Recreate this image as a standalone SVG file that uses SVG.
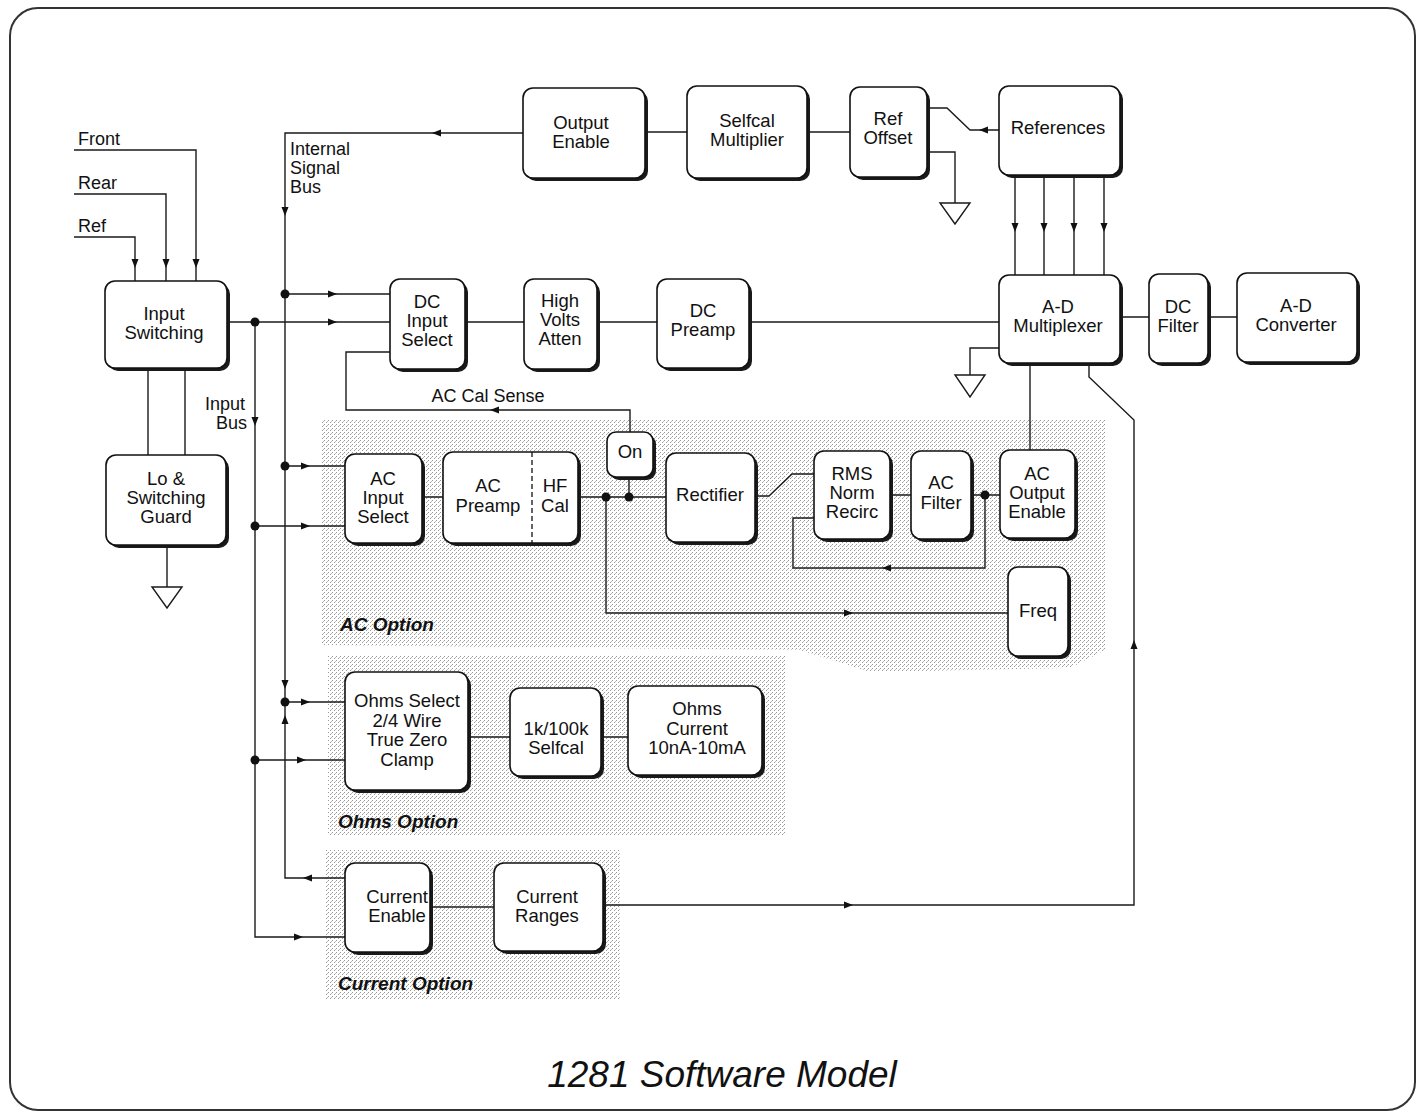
<svg xmlns="http://www.w3.org/2000/svg" width="1425" height="1120" viewBox="0 0 1425 1120">
<style>
.box{fill:#fff;stroke:#111;stroke-width:1.6}
.sh{fill:#1a1a1a}
.ln{fill:none;stroke:#1a1a1a;stroke-width:1.4}
.t{font-family:"Liberation Sans",Arial,sans-serif;font-size:18.5px;fill:#111;text-anchor:middle}
.l{font-family:"Liberation Sans",Arial,sans-serif;font-size:18px;fill:#111}
.opt{font-family:"Liberation Sans",Arial,sans-serif;font-size:19px;font-style:italic;font-weight:bold;fill:#111}
.ah{fill:#111}
.dot{fill:#111}
.gnd{fill:#fff;stroke:#1a1a1a;stroke-width:1.4}
.stip{fill:url(#stipple)}
</style>
<defs>
<pattern id="stipple" width="4" height="4" patternUnits="userSpaceOnUse">
<rect x="0" y="0" width="1" height="1" fill="#999"/>
<rect x="2" y="2" width="1" height="1" fill="#999"/>
<rect x="3" y="1" width="1" height="1" fill="#bbb"/>
</pattern>
<path id="a" d="M0,0 L-9,-3.5 L-9,3.5 Z"/>
</defs>
<rect x="0" y="0" width="1425" height="1120" fill="#fff"/>
<rect x="10" y="8" width="1405" height="1102" rx="28" fill="none" stroke="#333" stroke-width="2"/>

<g id="regions">
<polygon class="stip" points="322,420 1105,420 1105,650 1070,668 870,672 800,650 600,648 322,645"/>
<polygon class="stip" points="328,655 785,655 785,835 328,835"/>
<polygon class="stip" points="325,850 620,850 620,1000 325,1000"/>
</g>

<g id="connectors">
<path class="ln" d="M74,150 H196 V281 M74,194 H166 V281 M74,237 H135 V281"/>
<path class="ln" d="M148,368 V455 M185,368 V455 M167,545 V587"/>
<path class="ln" d="M227,322 H390"/>
<path class="ln" d="M255,322 V937 H345"/>
<path class="ln" d="M523,133 H285 V878 H345"/>
<path class="ln" d="M285,294 H390 M285,466 H345 M255,526 H345 M285,702 H345 M255,760 H345"/>
<path class="ln" d="M465,322 H524 M597,322 H657 M749,322 H999"/>
<path class="ln" d="M390,352 H346 V410 H630 V432"/>
<path class="ln" d="M645,132 H687 M807,132 H850"/>
<path class="ln" d="M999,130 H970 L947,108 H927"/>
<path class="ln" d="M927,152 H955 V203"/>
<path class="ln" d="M1015,175 V275 M1044,175 V275 M1074,175 V275 M1104,175 V275"/>
<path class="ln" d="M1120,317 H1149 M1208,317 H1237"/>
<path class="ln" d="M999,348 H970 V375"/>
<path class="ln" d="M1030,363 V450"/>
<path class="ln" d="M1089,363 V377 L1134,420 V905 H603"/>
<path class="ln" d="M422,497 H443 M578,497 H666 M629,477 V497"/>
<path class="ln" d="M606,497 V613 H1008"/>
<path class="ln" d="M755,496 H769 L792,474 H814"/>
<path class="ln" d="M890,495 H911 M971,495 H1000"/>
<path class="ln" d="M985,495 V568 H793 V518 H814"/>
<path class="ln" d="M468,737 H510 M601,737 H628"/>
<path class="ln" d="M430,907 H494"/>
<polygon class="gnd" points="152,587 182,587 167,608"/>
<polygon class="gnd" points="940,203 970,203 955,224"/>
<polygon class="gnd" points="955,375 985,375 970,397"/>
<use href="#a" class="ah" transform="translate(196,268) rotate(90)"/>
<use href="#a" class="ah" transform="translate(166,268) rotate(90)"/>
<use href="#a" class="ah" transform="translate(135,268) rotate(90)"/>
<use href="#a" class="ah" transform="translate(337,322)"/>
<use href="#a" class="ah" transform="translate(337,294)"/>
<use href="#a" class="ah" transform="translate(255,426) rotate(90)"/>
<use href="#a" class="ah" transform="translate(285,216) rotate(90)"/>
<use href="#a" class="ah" transform="translate(432,133) rotate(180)"/>
<use href="#a" class="ah" transform="translate(310,466)"/>
<use href="#a" class="ah" transform="translate(310,526)"/>
<use href="#a" class="ah" transform="translate(310,702)"/>
<use href="#a" class="ah" transform="translate(306,760)"/>
<use href="#a" class="ah" transform="translate(285,689) rotate(90)"/>
<use href="#a" class="ah" transform="translate(285,715) rotate(-90)"/>
<use href="#a" class="ah" transform="translate(303,878) rotate(180)"/>
<use href="#a" class="ah" transform="translate(303,937)"/>
<use href="#a" class="ah" transform="translate(490,410) rotate(180)"/>
<use href="#a" class="ah" transform="translate(979,130) rotate(180)"/>
<use href="#a" class="ah" transform="translate(1015,232) rotate(90)"/>
<use href="#a" class="ah" transform="translate(1044,232) rotate(90)"/>
<use href="#a" class="ah" transform="translate(1074,232) rotate(90)"/>
<use href="#a" class="ah" transform="translate(1104,232) rotate(90)"/>
<use href="#a" class="ah" transform="translate(1134,640) rotate(-90)"/>
<use href="#a" class="ah" transform="translate(853,905)"/>
<use href="#a" class="ah" transform="translate(853,613)"/>
<use href="#a" class="ah" transform="translate(882,568) rotate(180)"/>
<circle class="dot" cx="285" cy="294" r="4.5"/>
<circle class="dot" cx="255" cy="322" r="4.5"/>
<circle class="dot" cx="285" cy="466" r="4.5"/>
<circle class="dot" cx="255" cy="526" r="4.5"/>
<circle class="dot" cx="285" cy="702" r="4.5"/>
<circle class="dot" cx="255" cy="760" r="4.5"/>
<circle class="dot" cx="606" cy="497" r="4.5"/>
<circle class="dot" cx="629" cy="497" r="4.5"/>
<circle class="dot" cx="985" cy="495" r="4.5"/>
</g>

<g id="labels">
<text class="l" x="78" y="145">Front</text>
<text class="l" x="78" y="189">Rear</text>
<text class="l" x="78" y="232">Ref</text>
<text class="l" x="290" y="155">Internal</text>
<text class="l" x="290" y="174">Signal</text>
<text class="l" x="290" y="193">Bus</text>
<text class="l" x="245" y="410" text-anchor="end">Input</text>
<text class="l" x="247" y="429" text-anchor="end">Bus</text>
<text class="l" x="488" y="402" text-anchor="middle">AC Cal Sense</text>
<text class="opt" x="340" y="631">AC Option</text>
<text class="opt" x="338" y="828">Ohms Option</text>
<text class="opt" x="338" y="990">Current Option</text>
<text x="722" y="1087" font-family="Liberation Sans, Arial, sans-serif" font-size="37" font-style="italic" fill="#111" text-anchor="middle">1281 Software Model</text>
</g>

<g id="n-output-enable"><rect class="sh" x="526" y="91" width="122" height="90" rx="10"/><rect class="box" x="523" y="88" width="122" height="90" rx="10"/><text class="t" x="581" y="129">Output</text><text class="t" x="581" y="148">Enable</text></g>
<g id="n-selfcal-multiplier"><rect class="sh" x="690" y="89" width="120" height="92" rx="10"/><rect class="box" x="687" y="86" width="120" height="92" rx="10"/><text class="t" x="747" y="127">Selfcal</text><text class="t" x="747" y="146">Multiplier</text></g>
<g id="n-ref-offset"><rect class="sh" x="853" y="90" width="77" height="90" rx="10"/><rect class="box" x="850" y="87" width="77" height="90" rx="10"/><text class="t" x="888" y="125">Ref</text><text class="t" x="888" y="144">Offset</text></g>
<g id="n-references"><rect class="sh" x="1002" y="89" width="121" height="89" rx="10"/><rect class="box" x="999" y="86" width="121" height="89" rx="10"/><text class="t" x="1058" y="134">References</text></g>
<g id="n-input-switching"><rect class="sh" x="108" y="284" width="122" height="87" rx="10"/><rect class="box" x="105" y="281" width="122" height="87" rx="10"/><text class="t" x="164" y="320">Input</text><text class="t" x="164" y="339">Switching</text></g>
<g id="n-dc-input-select"><rect class="sh" x="393" y="282" width="75" height="90" rx="10"/><rect class="box" x="390" y="279" width="75" height="90" rx="10"/><text class="t" x="427" y="308">DC</text><text class="t" x="427" y="327">Input</text><text class="t" x="427" y="346">Select</text></g>
<g id="n-high-volts-atten"><rect class="sh" x="527" y="282" width="73" height="90" rx="10"/><rect class="box" x="524" y="279" width="73" height="90" rx="10"/><text class="t" x="560" y="307">High</text><text class="t" x="560" y="326">Volts</text><text class="t" x="560" y="345">Atten</text></g>
<g id="n-dc-preamp"><rect class="sh" x="660" y="282" width="92" height="89" rx="10"/><rect class="box" x="657" y="279" width="92" height="89" rx="10"/><text class="t" x="703" y="317">DC</text><text class="t" x="703" y="336">Preamp</text></g>
<g id="n-ad-multiplexer"><rect class="sh" x="1002" y="278" width="121" height="88" rx="10"/><rect class="box" x="999" y="275" width="121" height="88" rx="10"/><text class="t" x="1058" y="313">A-D</text><text class="t" x="1058" y="332">Multiplexer</text></g>
<g id="n-dc-filter"><rect class="sh" x="1152" y="277" width="59" height="89" rx="10"/><rect class="box" x="1149" y="274" width="59" height="89" rx="10"/><text class="t" x="1178" y="313">DC</text><text class="t" x="1178" y="332">Filter</text></g>
<g id="n-ad-converter"><rect class="sh" x="1240" y="276" width="120" height="89" rx="10"/><rect class="box" x="1237" y="273" width="120" height="89" rx="10"/><text class="t" x="1296" y="312">A-D</text><text class="t" x="1296" y="331">Converter</text></g>
<g id="n-lo-switching-guard"><rect class="sh" x="109" y="458" width="120" height="90" rx="10"/><rect class="box" x="106" y="455" width="120" height="90" rx="10"/><text class="t" x="166" y="485">Lo &amp;</text><text class="t" x="166" y="504">Switching</text><text class="t" x="166" y="523">Guard</text></g>
<g id="n-ac-input-select"><rect class="sh" x="348" y="457" width="77" height="89" rx="10"/><rect class="box" x="345" y="454" width="77" height="89" rx="10"/><text class="t" x="383" y="485">AC</text><text class="t" x="383" y="504">Input</text><text class="t" x="383" y="523">Select</text></g>
<g id="n-ac-preamp-hf-cal"><rect class="sh" x="446" y="455" width="135" height="91" rx="10"/><rect class="box" x="443" y="452" width="135" height="91" rx="10"/><line x1="532" y1="452" x2="532" y2="543" stroke="#111" stroke-width="1.3" stroke-dasharray="5,3"/><text class="t" x="488" y="492">AC</text><text class="t" x="488" y="512">Preamp</text><text class="t" x="555" y="492">HF</text><text class="t" x="555" y="512">Cal</text></g>
<g id="n-on"><rect class="sh" x="610" y="435" width="46" height="45" rx="9"/><rect class="box" x="607" y="432" width="46" height="45" rx="9"/><text class="t" x="630" y="458">On</text></g>
<g id="n-rectifier"><rect class="sh" x="669" y="456" width="89" height="89" rx="10"/><rect class="box" x="666" y="453" width="89" height="89" rx="10"/><text class="t" x="710" y="501">Rectifier</text></g>
<g id="n-rms-norm-recirc"><rect class="sh" x="817" y="454" width="76" height="88" rx="10"/><rect class="box" x="814" y="451" width="76" height="88" rx="10"/><text class="t" x="852" y="480">RMS</text><text class="t" x="852" y="499">Norm</text><text class="t" x="852" y="518">Recirc</text></g>
<g id="n-ac-filter"><rect class="sh" x="914" y="454" width="60" height="88" rx="10"/><rect class="box" x="911" y="451" width="60" height="88" rx="10"/><text class="t" x="941" y="489">AC</text><text class="t" x="941" y="509">Filter</text></g>
<g id="n-ac-output-enable"><rect class="sh" x="1003" y="453" width="75" height="88" rx="10"/><rect class="box" x="1000" y="450" width="75" height="88" rx="10"/><text class="t" x="1037" y="480">AC</text><text class="t" x="1037" y="499">Output</text><text class="t" x="1037" y="518">Enable</text></g>
<g id="n-freq"><rect class="sh" x="1011" y="570" width="60" height="89" rx="10"/><rect class="box" x="1008" y="567" width="60" height="89" rx="10"/><text class="t" x="1038" y="617">Freq</text></g>
<g id="n-ohms-select"><rect class="sh" x="348" y="675" width="123" height="118" rx="10"/><rect class="box" x="345" y="672" width="123" height="118" rx="10"/><text class="t" x="407" y="707">Ohms Select</text><text class="t" x="407" y="727">2/4 Wire</text><text class="t" x="407" y="746">True Zero</text><text class="t" x="407" y="766">Clamp</text></g>
<g id="n-1k-100k-selfcal"><rect class="sh" x="513" y="691" width="91" height="88" rx="10"/><rect class="box" x="510" y="688" width="91" height="88" rx="10"/><text class="t" x="556" y="735">1k/100k</text><text class="t" x="556" y="754">Selfcal</text></g>
<g id="n-ohms-current"><rect class="sh" x="631" y="689" width="134" height="89" rx="10"/><rect class="box" x="628" y="686" width="134" height="89" rx="10"/><text class="t" x="697" y="715">Ohms</text><text class="t" x="697" y="735">Current</text><text class="t" x="697" y="754">10nA-10mA</text></g>
<g id="n-current-enable"><rect class="sh" x="348" y="866" width="85" height="89" rx="10"/><rect class="box" x="345" y="863" width="85" height="89" rx="10"/><text class="t" x="397" y="903">Current</text><text class="t" x="397" y="922">Enable</text></g>
<g id="n-current-ranges"><rect class="sh" x="497" y="866" width="109" height="88" rx="10"/><rect class="box" x="494" y="863" width="109" height="88" rx="10"/><text class="t" x="547" y="903">Current</text><text class="t" x="547" y="922">Ranges</text></g>
</svg>
